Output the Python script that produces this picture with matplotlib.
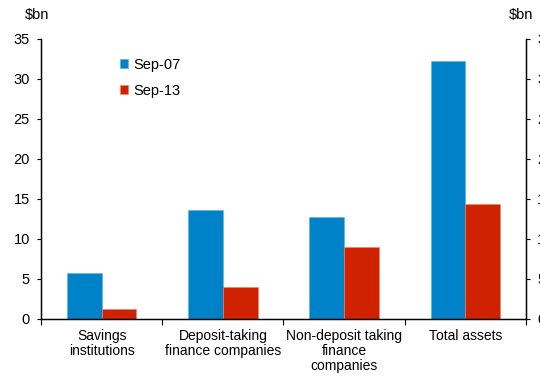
import numpy as np
import matplotlib
matplotlib.use('Agg')
import matplotlib.pyplot as plt

plt.rcParams['font.family'] = ['Liberation Sans', 'DejaVu Sans']

categories = ['Savings\ninstitutions', 'Deposit-taking\nfinance companies',
              'Non-deposit taking\nfinance\ncompanies', 'Total assets']
sep07 = [5.7, 13.6, 12.7, 32.2]
sep13 = [1.3, 4.0, 9.0, 14.4]
yticks = [0, 5, 10, 15, 20, 25, 30, 35]

blue = '#0082C8'
red = '#D12200'

fig = plt.figure(figsize=(5.4, 3.76), dpi=100)
ax = fig.add_axes([0.0759, 0.1516, 0.898, 0.745])

x = np.arange(len(categories))
w = 0.286
ax.bar(x - w / 2, sep07, w, color=blue, label='Sep-07', edgecolor='#5ab0e0', linewidth=0.4)
ax.bar(x + w / 2, sep13, w, color=red, label='Sep-13', edgecolor='#f08070', linewidth=0.4)

ax.set_xlim(-0.5, len(categories) - 0.5)
ax.set_ylim(0, 35)
ax.set_yticks(yticks)
ax.tick_params(axis='y', labelsize=10.5, length=3, width=0.8, direction='out', pad=5)

ax.set_xticks(np.arange(len(categories) + 1) - 0.5)
ax.set_xticklabels([])
ax.tick_params(axis='x', length=4, width=0.8, direction='out')
for i, lab in enumerate(categories):
    ax.text(i, -1.2, lab, ha='center', va='top', fontsize=10, linespacing=1.1)

ax.spines['top'].set_visible(False)
for s in ['left', 'right', 'bottom']:
    ax.spines[s].set_linewidth(1.0)

ax2 = ax.twinx()
ax2.set_ylim(0, 35)
ax2.set_yticks(yticks)
ax2.tick_params(axis='y', labelsize=10.5, length=3, width=0.8, direction='out', pad=5)
ax2.spines['top'].set_visible(False)

fig.text(25 / 540, 1 - 15 / 376, '$bn', fontsize=10.5, va='center', ha='left')
fig.text(509 / 540, 1 - 15 / 376, '$bn', fontsize=10.5, va='center', ha='left')

ax.legend(loc='upper left', bbox_to_anchor=(0.135, 0.98), frameon=False, fontsize=10.5,
          handlelength=0.6, handleheight=0.6, handletextpad=0.35, labelspacing=0.85)

fig.savefig('out.png', dpi=100)
